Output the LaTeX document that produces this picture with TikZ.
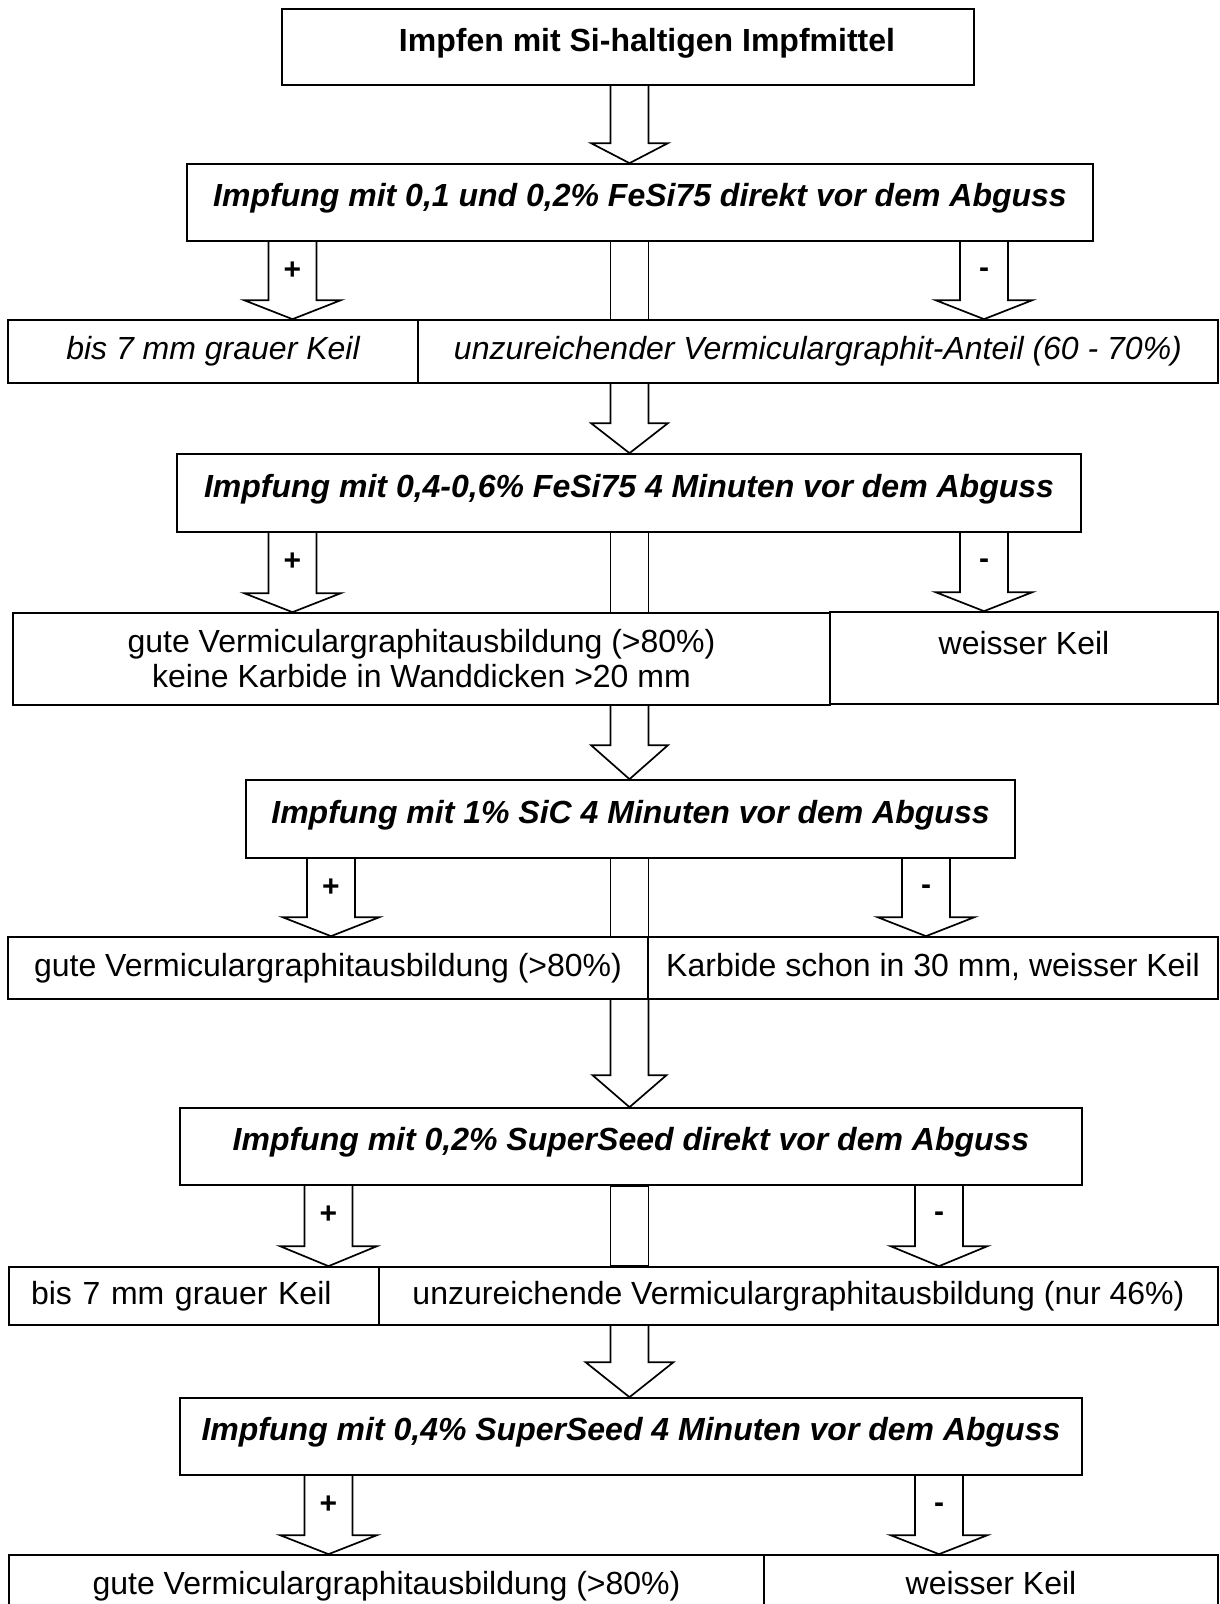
\documentclass[tikz,border=0pt]{standalone}
\usepackage{fontspec}
\setmainfont{Liberation Sans}
\usepackage{tikz}
\usetikzlibrary{calc}

% hollow block arrow: from, tip, half shaft, half head, head length
\newcommand{\hollowarrow}[5]{%
  \draw[arrowline] let \p1=(#1), \p2=(#2) in
    (\x2-#3,\y1) -- (\x2-#3,\y2+#5) -- (\x2-#4,\y2+#5) -- (\x2,\y2)
    -- (\x2+#4,\y2+#5) -- (\x2+#3,\y2+#5) -- (\x2+#3,\y1);}
% open shaft running on through a result row
\newcommand{\openshaft}[3]{%
  \draw[arrowline] let \p1=(#1), \p2=(#2) in
    (\x2-#3,\y1) -- (\x2-#3,\y2) (\x2+#3,\y1) -- (\x2+#3,\y2);}

\begin{document}
\fontsize{32}{38}\selectfont
\begin{tikzpicture}[x=1pt, y=-1pt,
  stepbox/.style={draw, line width=1.7pt, inner sep=0pt, minimum height=77pt,
    font=\bfseries\itshape, text height=23pt, text depth=15pt},
  resbox/.style={draw, line width=1.7pt, inner sep=0pt},
  resline/.style={resbox, text height=23pt, text depth=7pt},
  arrowline/.style={line width=1.7pt},
  sign/.style={font=\bfseries\fontsize{30}{32}\selectfont, inner sep=0pt}]
\useasboundingbox (0,0) rectangle (1219,1604);
\coordinate (mid) at (629.5,0);
\coordinate (pa) at (292.5,0);
\coordinate (pb) at (331,0);
\coordinate (pc) at (328.5,0);
\coordinate (ma) at (984,0);
\coordinate (mb) at (926,0);
\coordinate (mc) at (939,0);
% --- start ---
\node[draw, line width=1.7pt, minimum width=692pt, minimum height=76pt] (start) at (628,47) {};
\node[font=\bfseries] (starttext) at ([xshift=19pt, yshift=4pt]start.center) {Impfen mit Si-haltigen Impfmittel};
% --- FeSi75 direkt ---
\node[stepbox, minimum width=906pt] (t1) at (640,202.5) {Impfung mit 0,1 und 0,2\% FeSi75 direkt vor dem Abguss};
\node[resline, minimum width=410pt, minimum height=63pt, font=\itshape] (r1a) at (213,351.5) {bis 7 mm grauer Keil};
\node[resline, minimum width=800pt, minimum height=63pt, font=\itshape] (r1b) at (818,351.5) {unzureichender Vermiculargraphit-Anteil (60 - 70\%)};
% --- FeSi75 4 min ---
\node[stepbox, minimum width=904pt, minimum height=78pt] (t2) at (629,493) {Impfung mit 0,4-0,6\% FeSi75 4 Minuten vor dem Abguss};
\node[resbox, minimum width=817pt, minimum height=92pt, align=center,
  font=\fontsize{32}{35}\selectfont] (r2a) at (421.5,659) {gute Vermiculargraphitausbildung (>80\%)\\keine Karbide in Wanddicken >20 mm};
\node[resbox, minimum width=388pt, minimum height=92pt, text height=23pt, text depth=30pt] (r2b) at (1024,658) {weisser Keil};
% --- SiC ---
\node[stepbox, minimum width=769pt, minimum height=78pt] (t3) at (630.5,819) {Impfung mit 1\% SiC 4 Minuten vor dem Abguss};
\node[resline, minimum width=640pt, minimum height=62pt] (r3a) at (328,968) {gute Vermiculargraphitausbildung (>80\%)};
\node[resline, minimum width=570pt, minimum height=62pt] (r3b) at (933,968) {Karbide schon in 30 mm, weisser Keil};
% --- SuperSeed direkt ---
\node[stepbox, minimum width=902pt] (t4) at (631,1146.5) {Impfung mit 0,2\% SuperSeed direkt vor dem Abguss};
\node[resline, minimum width=370pt, minimum height=58pt, text width=326pt, align=left] (r4a) at (194,1296) {bis 7 mm grauer Keil};
\node[resline, minimum width=839pt, minimum height=58pt] (r4b) at (798.5,1296) {unzureichende Vermiculargraphitausbildung (nur 46\%)};
% --- SuperSeed 4 min ---
\node[stepbox, minimum width=902pt] (t5) at (631,1436.5) {Impfung mit 0,4\% SuperSeed 4 Minuten vor dem Abguss};
\node[resline, minimum width=755pt, minimum height=62pt] (r5a) at (386.5,1586) {gute Vermiculargraphitausbildung (>80\%)};
\node[resline, minimum width=454pt, minimum height=62pt] (r5b) at (991,1586) {weisser Keil};
% --- main line ---
\hollowarrow{start.south -| mid}{t1.north -| mid}{19pt}{38.5pt}{20pt}
\openshaft{t1.south -| mid}{r1b.north -| mid}{19pt}
\hollowarrow{r1b.south -| mid}{t2.north -| mid}{19pt}{38.5pt}{30pt}
\openshaft{t2.south -| mid}{r2a.north -| mid}{19pt}
\hollowarrow{r2a.south -| mid}{t3.north -| mid}{19pt}{38.5pt}{34pt}
\openshaft{t3.south -| mid}{r3a.north -| mid}{19pt}
\hollowarrow{r3a.south -| mid}{t4.north -| mid}{19pt}{37pt}{32pt}
\draw[arrowline] ($(t4.south -| mid)+(-19,0)$) rectangle ($(r4b.north -| mid)+(19,0)$);
\hollowarrow{r4b.south -| mid}{t5.north -| mid}{19pt}{44pt}{35pt}
% --- plus / minus branches ---
\hollowarrow{t1.south -| pa}{r1a.north -| pa}{24pt}{48.5pt}{19pt}
\hollowarrow{t1.south -| ma}{r1b.north -| ma}{24pt}{48.5pt}{19pt}
\node[sign] (plus1) at ($(t1.south -| pa)+(0,29)$) {+};
\node[sign] (minus1) at ($(t1.south -| ma)+(0,31)$) {-};
\hollowarrow{t2.south -| pa}{r2a.north -| pa}{24pt}{48.5pt}{19pt}
\hollowarrow{t2.south -| ma}{r2b.north -| ma}{24pt}{48.5pt}{19pt}
\node[sign] (plus2) at ($(t2.south -| pa)+(0,29)$) {+};
\node[sign] (minus2) at ($(t2.south -| ma)+(0,31)$) {-};
\hollowarrow{t3.south -| pb}{r3a.north -| pb}{24pt}{48.5pt}{19pt}
\hollowarrow{t3.south -| mb}{r3b.north -| mb}{24pt}{48.5pt}{19pt}
\node[sign] (plus3) at ($(t3.south -| pb)+(0,29)$) {+};
\node[sign] (minus3) at ($(t3.south -| mb)+(0,31)$) {-};
\hollowarrow{t4.south -| pc}{r4a.north -| pc}{24pt}{48.5pt}{20pt}
\hollowarrow{t4.south -| mc}{r4b.north -| mc}{24pt}{48.5pt}{20pt}
\node[sign] (plus4) at ($(t4.south -| pc)+(0,29)$) {+};
\node[sign] (minus4) at ($(t4.south -| mc)+(0,31)$) {-};
\hollowarrow{t5.south -| pc}{r5a.north -| pc}{24pt}{48.5pt}{19pt}
\hollowarrow{t5.south -| mc}{r5b.north -| mc}{24pt}{48.5pt}{19pt}
\node[sign] (plus5) at ($(t5.south -| pc)+(0,29)$) {+};
\node[sign] (minus5) at ($(t5.south -| mc)+(0,32)$) {-};
\end{tikzpicture}
\end{document}
